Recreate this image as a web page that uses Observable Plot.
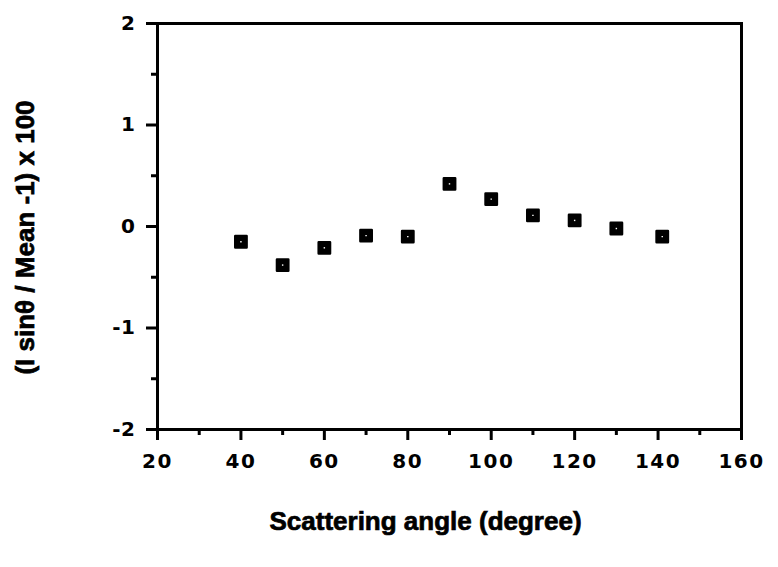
<!DOCTYPE html>
<html>
<head>
<meta charset="utf-8">
<script src="https://cdn.jsdelivr.net/npm/d3@7"></script>
<script src="https://cdn.jsdelivr.net/npm/@observablehq/plot@0.6"></script>
<style>
  html, body { margin: 0; padding: 0; background: white; }
  .chart g[aria-label="x-axis tick label"] text { letter-spacing: 1.5px; font-family: 'DejaVu Sans', sans-serif; }
  .chart g[aria-label="y-axis tick label"] text { letter-spacing: 0.5px; font-family: 'DejaVu Sans', sans-serif; }
</style>
</head>
<body>
<div id="chart"></div>
<script>
const angles = [40, 50, 60, 70, 80, 90, 100, 110, 120, 130, 141];
const deviations = [-0.15, -0.38, -0.21, -0.09, -0.10, 0.42, 0.27, 0.11, 0.06, -0.02, -0.10];
const xMajorTicks = [20, 40, 60, 80, 100, 120, 140, 160];
const xMinorTicks = [30, 50, 70, 90, 110, 130, 150];
const yMajorTicks = [-2, -1, 0, 1, 2];
const yMinorTicks = [-1.5, -0.5, 0.5, 1.5];
const xTitle = "Scattering angle (degree)";
const yTitle = "(I sinθ / Mean -1) x 100";

const data = angles.map((a, i) => ({angle: a, dev: deviations[i]}));
const fmt = d => (d < 0 ? "-" + Math.abs(d) : String(d));

const chart = Plot.plot({
  width: 778,
  height: 567,
  marginLeft: 157,
  marginRight: 37,
  marginTop: 23,
  marginBottom: 138,
  className: "chart",
  style: {fontFamily: "'Liberation Sans', Arial, sans-serif", fontWeight: "bold", background: "white", color: "black"},
  x: {domain: [20, 160]},
  y: {domain: [-2, 2]},
  marks: [
    Plot.frame({stroke: "black", strokeWidth: 3}),
    Plot.axisX({ticks: xMinorTicks, tickSize: 6, strokeWidth: 3, text: null, label: null}),
    Plot.axisX({ticks: xMajorTicks, tickSize: 11, strokeWidth: 3, tickPadding: 13, fontSize: 20, tickFormat: fmt,
      label: xTitle, labelAnchor: "center", labelArrow: "none", labelOffset: 100}),
    Plot.axisY({ticks: yMinorTicks, tickSize: 6, strokeWidth: 3, text: null, label: null}),
    Plot.axisY({ticks: yMajorTicks, tickSize: 11, strokeWidth: 3, tickPadding: 11, fontSize: 20, tickFormat: fmt,
      label: yTitle, labelAnchor: "center", labelArrow: "none", labelOffset: 142}),
    Plot.dot(data, {x: "angle", y: "dev", symbol: "square", r: 6.4, fill: "black", stroke: "black", strokeWidth: 2.5, strokeLinejoin: "round"}),
    Plot.dot(data, {x: "angle", y: "dev", symbol: "square", r: 0.8, fill: "white", stroke: "none"})
  ]
});
const sel = d3.select(chart);
sel.selectAll('g[aria-label="x-axis label"] text, g[aria-label="y-axis label"] text')
  .style("font-size", "26px").style("font-weight", "900").attr("stroke", "black").attr("stroke-width", 0.7);
const shift = (g, dx, dy) => {
  const t = g.attr("transform") || "";
  g.attr("transform", `translate(${dx},${dy}) ${t}`);
};
shift(sel.select('g[aria-label="x-axis label"]'), -24, 0);
shift(sel.select('g[aria-label="y-axis label"]'), 0, 11);
shift(sel.select('g[aria-label="x-axis tick label"]'), 3, 0);
document.getElementById("chart").appendChild(chart);
</script>
</body>
</html>
